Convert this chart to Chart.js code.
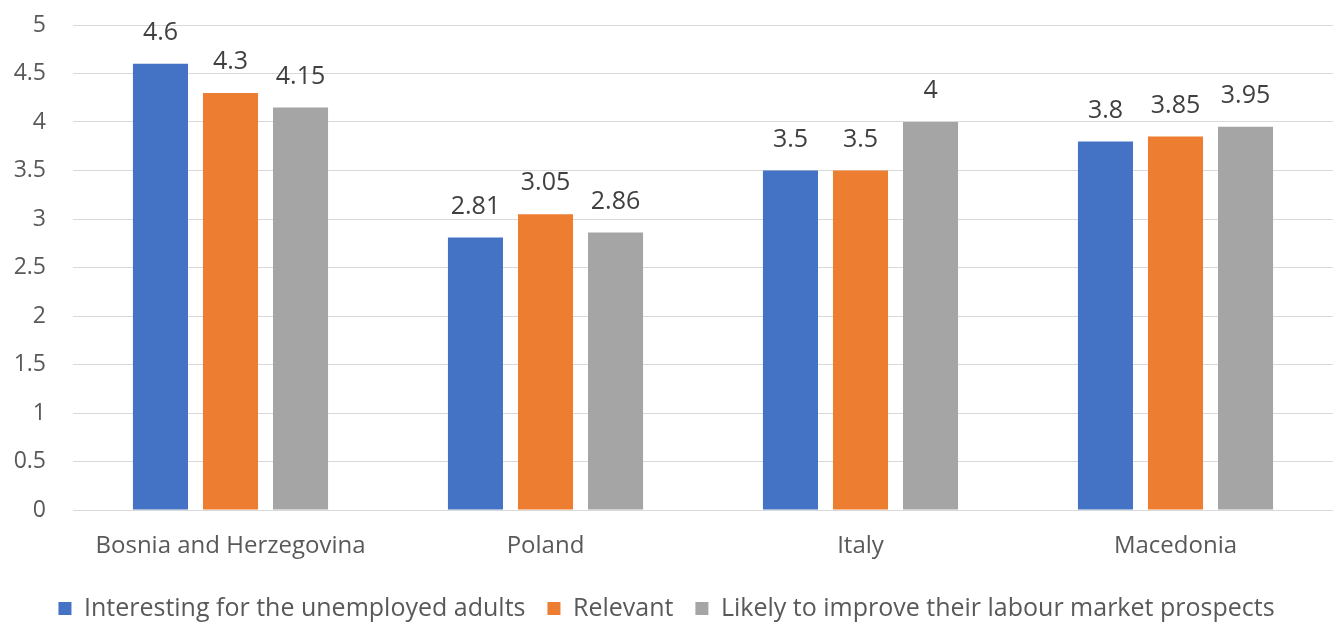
<!DOCTYPE html>
<html>
<head>
<meta charset="utf-8">
<script src="https://cdn.jsdelivr.net/npm/chart.js@4"></script>
<style>
  html, body { margin: 0; padding: 0; background: #fff; overflow: hidden; }
  #wrap { width: 1336px; height: 625px; }
</style>
</head>
<body>
<div id="wrap"><canvas id="myChart"></canvas></div>
<script>
// chart values

let countries = ['Bosnia and Herzegovina', 'Poland', 'Italy', 'Macedonia'];
let interesting = [4.6, 2.81, 3.5, 3.8];
let relevant = [4.3, 3.05, 3.5, 3.85];
let likely = [4.15, 2.86, 4, 3.95];
let yTicks = [0, 0.5, 1, 1.5, 2, 2.5, 3, 3.5, 4, 4.5, 5];

Chart.defaults.font.family = '"Open Sans", "Noto Sans", sans-serif';
Chart.defaults.font.size = 23;
Chart.defaults.color = '#595959';

// value labels over the bars
let barLabels = {
    id: 'barLabels',
    afterDatasetsDraw(chart) {
        let ctx = chart.ctx;
        ctx.save();
        ctx.font = '25px "Open Sans", "Noto Sans", sans-serif';
        ctx.fillStyle = '#404040';
        ctx.textAlign = 'center';
        ctx.textBaseline = 'middle';
        chart.data.datasets.forEach((ds, i) => {
            chart.getDatasetMeta(i).data.forEach((bar, j) => {
                ctx.fillText(String(ds.data[j]), bar.x, bar.y - 31);
            });
        });
        ctx.restore();
    }
};

let common = {
    barPercentage: 0.786,
    categoryPercentage: 0.667,
    borderWidth: 0
};

let barChart = new Chart(document.getElementById('myChart').getContext('2d'), {
    type: 'bar',
    data: {
        labels: countries,
        datasets: [
            Object.assign({ label: 'Interesting for the unemployed adults', data: interesting, backgroundColor: '#4472C4' }, common),
            Object.assign({ label: 'Relevant', data: relevant, backgroundColor: '#ED7D31' }, common),
            Object.assign({ label: 'Likely to improve their labour market prospects', data: likely, backgroundColor: '#A5A5A5' }, common)
        ]
    },
    options: {
        responsive: true,
        maintainAspectRatio: false,
        animation: false,
        layout: { padding: { top: 25, right: 3, bottom: -6, left: 0 } },
        scales: {
            y: {
                min: 0,
                max: 5,
                afterBuildTicks(scale) {
                    scale.ticks = yTicks.map(v => ({ value: v }));
                },
                afterFit(scale) {
                    scale.width = 73;
                    scale.paddingTop = 0;
                    scale.paddingBottom = 0;
                },
                ticks: {
                    padding: 27,
                    color: '#595959',
                    callback: v => String(v)
                },
                border: { display: false },
                grid: { color: '#d9d9d9', drawTicks: false }
            },
            x: {
                afterFit(scale) { scale.height = 64; },
                ticks: { padding: 14, color: '#595959', font: { size: 24 } },
                border: { display: false },
                grid: { display: false }
            }
        },
        plugins: {
            legend: {
                position: 'bottom',
                labels: {
                    boxWidth: 13,
                    boxHeight: 13,
                    padding: 22,
                    color: '#595959',
                    font: { size: 25 }
                }
            },
            tooltip: { enabled: false }
        }
    },
    plugins: [barLabels]
});
</script>
</body>
</html>
